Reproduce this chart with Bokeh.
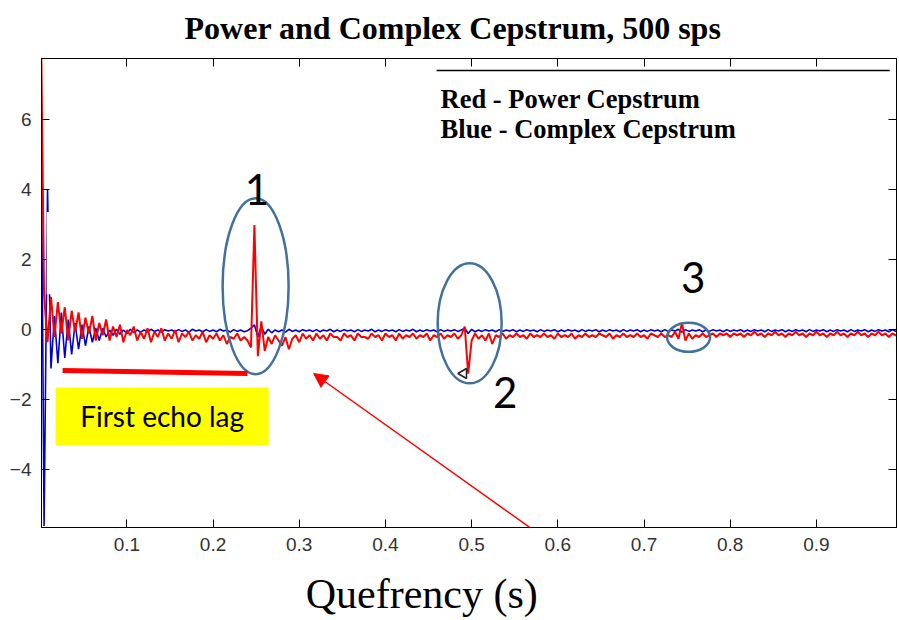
from bokeh.plotting import figure
from bokeh.models import (Range1d, LinearAxis, FixedTicker, Label, BoxAnnotation,
                          Arrow, NormalHead, CustomJSTickFormatter, ColumnDataSource)
from bokeh.embed import file_html
from bokeh.resources import INLINE

# ---------------- data ----------------
step = 0.004  # quefrency spacing of the listed samples (s)

red_power = [
    9.5, 1.0, -0.35, 0.95, -0.2, 0.8, -0.1, 0.65, -0.3, 0.55,
    -0.05, 0.5, -0.25, 0.35, -0.1, 0.4, -0.3, 0.2, -0.15, 0.3,
    -0.3, 0.1, -0.2, 0.15, -0.35, 0.0, -0.15, 0.1, -0.3, -0.05,
    -0.25, 0.05, -0.35, -0.05, -0.2, 0.05, -0.3, -0.1, -0.25, 0.0,
    -0.35, -0.1, -0.2, -0.05, -0.3, -0.15, -0.25, -0.05, -0.35, -0.15,
    -0.25, -0.1, -0.3, -0.15, -0.4, -0.2, -0.25, -0.1, -0.3, -0.2,
    -0.3, -0.5, 3.0, -0.75, 0.25, -0.6, -0.2, -0.4, -0.15, -0.3,
    -0.45, -0.2, -0.55, -0.25, -0.15, -0.35, -0.1, -0.25, -0.15, -0.3,
    -0.1, -0.25, -0.15, -0.3, -0.1, -0.2, -0.2, -0.3, -0.1, -0.2,
    -0.15, -0.3, -0.1, -0.2, -0.2, -0.25, -0.1, -0.2, -0.15, -0.3,
    -0.1, -0.2, -0.15, -0.3, -0.1, -0.25, -0.15, -0.2, -0.1, -0.25,
    -0.15, -0.2, -0.1, -0.3, -0.15, -0.2, -0.1, -0.25, -0.15, -0.2,
    -0.1, -0.25, -0.15, 0.1, -1.25, -0.3, -0.1, -0.25, -0.15, -0.3,
    -0.1, -0.4, -0.15, -0.2, -0.1, -0.25, -0.15, -0.2, -0.1, -0.2,
    -0.15, -0.25, -0.1, -0.2, -0.15, -0.2, -0.1, -0.2, -0.15, -0.25,
    -0.1, -0.2, -0.15, -0.2, -0.1, -0.25, -0.15, -0.2, -0.1, -0.2,
    -0.15, -0.2, -0.1, -0.15, -0.2, -0.1, -0.25, -0.15, -0.2, -0.1,
    -0.2, -0.15, -0.2, -0.1, -0.2, -0.15, -0.25, -0.1, -0.15, -0.2,
    -0.1, -0.2, -0.15, -0.2, -0.05, -0.25, 0.2, -0.3, -0.1, -0.25,
    -0.15, -0.2, -0.1, -0.2, -0.15, -0.1, -0.2, -0.1, -0.15, -0.1,
    -0.2, -0.1, -0.15, -0.1, -0.2, -0.1, -0.15, -0.05, -0.15, -0.1,
    -0.2, -0.1, -0.15, -0.05, -0.15, -0.1, -0.2, -0.1, -0.15, -0.05,
    -0.15, -0.1, -0.2, -0.1, -0.15, -0.05, -0.15, -0.1, -0.2, -0.1,
    -0.15, -0.05, -0.15, -0.1, -0.2, -0.1, -0.15, -0.05, -0.15, -0.1,
    -0.2, -0.1, -0.15, -0.05, -0.15, -0.1, -0.2, -0.1, -0.15, -0.1,
]

blue_complex = [
    8.0, -5.6, 4.0, -1.1, 0.4, -0.95, 0.5, -0.8, 0.3, -0.7,
    0.2, -0.55, 0.15, -0.45, 0.1, -0.35, 0.05, -0.3, 0.05, -0.2,
    0.0, -0.15, 0.02, -0.12, 0.0, -0.1, 0.02, -0.08, 0.0, -0.06,
    0.0, -0.05, 0.02, -0.04, 0.0, -0.06, 0.01, -0.03, 0.0, -0.05,
    0.01, -0.04, 0.0, -0.06, 0.02, -0.03, 0.0, -0.05, 0.01, -0.04,
    0.0, -0.05, 0.02, -0.03, 0.0, -0.06, 0.01, -0.04, 0.0, -0.05,
    -0.02, 0.05, 0.15, -0.2, 0.1, -0.12, 0.02, -0.08, 0.0, -0.05,
    0.0, -0.06, 0.02, -0.04, 0.0, -0.05, 0.01, -0.03, 0.0, -0.04,
    0.01, -0.05, 0.0, -0.03, 0.02, -0.05, 0.0, -0.04, 0.01, -0.03,
    0.0, -0.05, 0.01, -0.04, 0.0, -0.03, 0.02, -0.05, 0.0, -0.04,
    0.01, -0.03, 0.0, -0.05, 0.01, -0.04, 0.0, -0.03, 0.02, -0.05,
    0.0, -0.04, 0.01, -0.03, 0.0, -0.05, 0.01, -0.04, 0.0, -0.03,
    0.01, -0.04, 0.0, 0.05, -0.1, 0.02, -0.05, 0.0, -0.04, 0.01,
    -0.03, 0.0, -0.05, 0.01, -0.04, 0.0, -0.03, 0.01, -0.05, 0.0,
    -0.04, 0.01, -0.03, 0.0, -0.05, 0.01, -0.04, 0.0, -0.03, 0.01,
    -0.05, 0.0, -0.04, 0.01, -0.03, 0.0, -0.05, 0.01, -0.04, 0.0,
    -0.03, 0.01, -0.05, 0.0, -0.04, 0.01, -0.03, 0.0, -0.05, 0.01,
    -0.04, 0.0, -0.03, 0.01, -0.05, 0.0, -0.04, 0.01, -0.03, 0.0,
    -0.05, 0.01, -0.04, 0.0, -0.03, 0.02, -0.06, 0.01, -0.04, 0.0,
    -0.03, 0.01, -0.05, 0.0, -0.04, 0.01, -0.03, 0.0, -0.05, 0.01,
    -0.04, 0.0, -0.03, 0.01, -0.05, 0.0, -0.04, 0.01, -0.03, 0.0,
    -0.05, 0.01, -0.04, 0.0, -0.03, 0.01, -0.05, 0.0, -0.04, 0.01,
    -0.03, 0.0, -0.05, 0.01, -0.04, 0.0, -0.03, 0.01, -0.05, 0.0,
    -0.04, 0.01, -0.03, 0.0, -0.05, 0.01, -0.04, 0.0, -0.03, 0.01,
    -0.05, 0.0, -0.04, 0.01, -0.03, 0.0, -0.05, 0.01, -0.04, 0.0,
]

quefrency = [i * step for i in range(len(red_power))]

x_ticks = [0.1, 0.2, 0.3, 0.4, 0.5, 0.6, 0.7, 0.8, 0.9]
y_ticks = [-4, -2, 0, 2, 4, 6]

title_text = "Power and Complex Cepstrum, 500 sps"
x_label_text = "Quefrency (s)"
legend_lines = ["Red - Power Cepstrum", "Blue - Complex Cepstrum"]

# annotation positions (data coordinates)
echo_numbers = ["1", "2", "3"]
echo_num_x = [0.251, 0.539, 0.757]
echo_num_y = [4.0, -1.8, 1.5]
ellipse_x = [0.2494, 0.4977, 0.7517]
ellipse_y = [1.25, 0.19, -0.21]
ellipse_w = [66, 64, 43]
ellipse_h = [176, 120, 29]
lag_bar_x = [0.0255, 0.240]
lag_bar_y = [-1.157, -1.243]
marker_x = [0.4907]
marker_y = [-1.243]

# ---------------- figure ----------------
p = figure(width=899, height=620, output_backend="svg", toolbar_location=None,
           x_range=Range1d(0.001, 0.9929), y_range=Range1d(-5.643, 7.757),
           min_border_left=41, min_border_right=3, min_border_top=58, min_border_bottom=93,
           x_axis_location=None, y_axis_location=None)
p.grid.visible = False
p.outline_line_color = "black"
p.outline_line_width = 1
p.background_fill_color = "white"
p.border_fill_color = "white"

def make_axis(ticks, labels=True):
    ax = LinearAxis(ticker=FixedTicker(ticks=ticks))
    ax.major_tick_in = 8
    ax.major_tick_out = 0
    ax.minor_tick_line_color = None
    ax.axis_line_color = "black"
    ax.major_tick_line_color = "black"
    if labels:
        ax.major_label_text_font = "Liberation Sans"
        ax.major_label_text_font_size = "19px"
        ax.major_label_text_color = "#333333"
    else:
        ax.formatter = CustomJSTickFormatter(code="return ''")
        ax.major_label_standoff = 0
        ax.major_label_text_font_size = "2px"
    return ax

# bottom axis with the x label (trailing no-break spaces move the centred label to x ~ 423)
xb = make_axis(x_ticks)
xb.major_label_standoff = 10
xb.axis_label = x_label_text + "\u00a0" * 9
xb.axis_label_text_font = "Liberation Serif"
xb.axis_label_text_font_style = "normal"
xb.axis_label_text_font_size = "42px"
xb.axis_label_text_color = "black"
xb.axis_label_standoff = 17
p.add_layout(xb, "below")

yl = make_axis(y_ticks)
yl.major_label_standoff = 10
p.add_layout(yl, "left")

# top axis: ticks only, carrying the chart title as its label (centred near x = 453)
xt = make_axis(x_ticks, labels=False)
xt.axis_label = title_text + "\u00a0" * 4
xt.axis_label_text_font = "Liberation Serif"
xt.axis_label_text_font_style = "bold"
xt.axis_label_text_font_size = "32px"
xt.axis_label_text_color = "black"
xt.axis_label_standoff = 13
p.add_layout(xt, "above")
p.add_layout(make_axis(y_ticks, labels=False), "right")

src = ColumnDataSource(dict(q=quefrency, red=red_power, blue=blue_complex))
p.line("q", "blue", source=src, line_color="#0000D0", line_width=1.6)
p.line("q", "red", source=src, line_color="#FF0000", line_width=2)

# white patch from the source image (hides part of the first spike)
p.add_layout(BoxAnnotation(left=0.007, right=0.1, bottom=1.02, top=3.37,
                           fill_color="white", fill_alpha=1, line_color=None))

# legend box top line and texts
p.segment(x0=[0.4594], y0=[7.414], x1=[0.985], y1=[7.414], line_color="black", line_width=1.5)
for txt, yy in zip(legend_lines, [6.614, 5.729]):
    p.add_layout(Label(x=0.464, y=yy, text=txt, text_font="Liberation Serif",
                       text_font_style="bold", text_font_size="26.5px",
                       text_baseline="middle", text_align="left", text_color="black"))

# ellipses
p.ellipse(x=ellipse_x, y=ellipse_y, width=ellipse_w, height=ellipse_h,
          width_units="screen", height_units="screen",
          fill_color=None, line_color="#41719C", line_width=2.5)
for t, xx, yy in zip(echo_numbers, echo_num_x, echo_num_y):
    p.add_layout(Label(x=xx, y=yy, text=t, text_font="Lato", text_font_size="42px",
                       text_align="center", text_baseline="middle", text_color="black"))

# marker at the tip of the second spike
p.scatter(marker_x, marker_y, marker="triangle", angle=1.5708, size=10,
          fill_color="white", line_color="#222222", line_width=1.5)

# first echo lag bar and box
p.segment(x0=[lag_bar_x[0]], y0=[lag_bar_y[0]], x1=[lag_bar_x[1]], y1=[lag_bar_y[1]],
          line_color="#FF0000", line_width=5)
p.add_layout(BoxAnnotation(left=0.0174, right=0.2645, bottom=-3.30, top=-1.643,
                           fill_color="#FFFF00", fill_alpha=1, line_color=None))
p.add_layout(Label(x=0.141, y=-2.47, text="First echo lag", text_font="Lato",
                   text_font_size="28px", text_align="center", text_baseline="middle",
                   text_color="black"))

# red arrow
p.add_layout(Arrow(end=NormalHead(size=14, fill_color="#FF0000", line_color="#FF0000"),
                   x_start=0.719, y_start=-8.3, x_end=0.3167, y_end=-1.243,
                   line_color="#FF0000", line_width=1.5))

open("out.html", "w").write(file_html(p, INLINE))
